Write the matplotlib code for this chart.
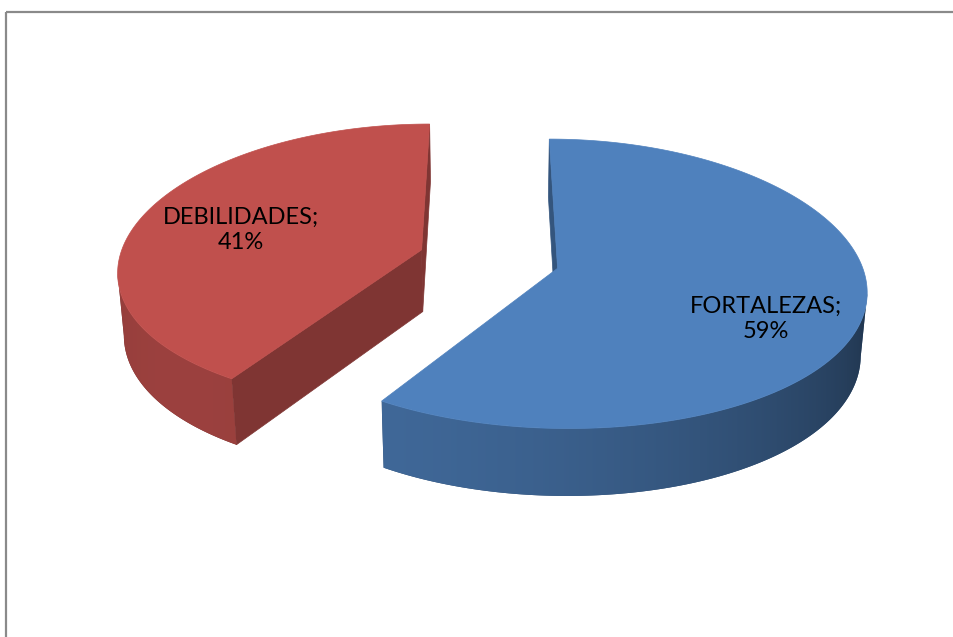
import numpy as np
import matplotlib
matplotlib.use("Agg")
import matplotlib.pyplot as plt
from matplotlib.patches import Polygon

# --- data -------------------------------------------------------------
categories = ["FORTALEZAS", "DEBILIDADES"]
shares = [59, 41]
slice_colors = ["#4F81BD", "#C0504D"]

# --- layout / 3-D view settings (pixel canvas) -----------------------
W, H = 954, 637
CX, CY = 489, 259          # projected position of the pie centre
SCALE = 302.5              # pixels per unit radius
ELEV = np.radians(27.8)    # viewing elevation
DIST_Y = 8.3               # perspective strength, vertical
DIST_X = 6.5               # perspective strength, horizontal
DEPTH = 0.235              # thickness of the pie
EXPLODE = 0.234            # radial offset of every slice
LABEL_R = 0.65
LABEL_SHIFT = {"FORTALEZAS": (11, 24), "DEBILIDADES": (0, 5)}
CUT_SHADE = 0.66

CAM = np.array([0.0, -DIST_Y * np.cos(ELEV), DIST_Y * np.sin(ELEV)])


def project(u, v, h):
    u, v, h = np.broadcast_arrays(np.asarray(u, float), np.asarray(v, float),
                                  np.asarray(h, float))
    yc = h * np.cos(ELEV) + v * np.sin(ELEV)
    zc = v * np.cos(ELEV) - h * np.sin(ELEV)
    fx = 1.0 / (1.0 + zc / DIST_X)
    fy = 1.0 / (1.0 + zc / DIST_Y)
    return CX + SCALE * u * fx, CY - SCALE * yc * fy


def shade(color, k):
    rgb = np.array(matplotlib.colors.to_rgb(color))
    return tuple(np.clip(rgb * k, 0, 1))


def wall_factor(theta):
    return 0.29 + 0.52 * (1 + np.cos(theta - np.radians(225))) / 2


fig = plt.figure(figsize=(W / 100, H / 100), dpi=100)
ax = fig.add_axes([0, 0, 1, 1])
ax.axis("off")

# chart frame: only the top and left edges fall inside the image
ax.plot([6, W + 10], [11.5, 11.5], color="#8a8a8a", lw=1.6,
        solid_capstyle="butt")
ax.plot([6, 6], [11.5, H + 10], color="#8a8a8a", lw=1.6,
        solid_capstyle="butt")

total = float(sum(shares))
bounds = np.radians(np.concatenate([[0], np.cumsum(shares)]) / total * 360)

slices = []
for i, (cat, val, col) in enumerate(zip(categories, shares, slice_colors)):
    a0, a1 = bounds[i], bounds[i + 1]
    mid = (a0 + a1) / 2
    slices.append(dict(cat=cat, val=val, col=col, a0=a0, a1=a1, mid=mid,
                       au=EXPLODE * np.sin(mid), av=EXPLODE * np.cos(mid)))

# far slices first
for s in sorted(slices, key=lambda s: -s["av"]):
    a0, a1, au, av, col = s["a0"], s["a1"], s["au"], s["av"], s["col"]
    apex = np.array([au, av, 0.0])

    # radial cut faces
    for phi, normal in ((a0, np.array([-np.cos(a0), np.sin(a0), 0])),
                        (a1, np.array([np.cos(a1), -np.sin(a1), 0]))):
        if np.dot(CAM - apex, normal) <= 0:
            continue
        ru, rv = au + np.sin(phi), av + np.cos(phi)
        xs, ys = project([au, ru, ru, au], [av, rv, rv, av],
                         [0, 0, -DEPTH, -DEPTH])
        ax.add_patch(Polygon(np.column_stack([xs, ys]), closed=True,
                             fc=shade(col, CUT_SHADE),
                             ec=shade(col, CUT_SHADE), lw=0.5))

    # outer curved wall with a horizontal light gradient
    th = np.linspace(a0, a1, 600)
    nrm = np.column_stack([np.sin(th), np.cos(th), np.zeros_like(th)])
    pts = apex + nrm
    vis = np.einsum("ij,ij->i", CAM - pts, nrm) > 0
    if vis.any():
        tv = th[vis]
        xt, yt = project(au + np.sin(tv), av + np.cos(tv), 0)
        xb, yb = project(au + np.sin(tv), av + np.cos(tv), -DEPTH)
        outline = np.column_stack([np.concatenate([xt, xb[::-1]]),
                                   np.concatenate([yt, yb[::-1]])])
        wall = Polygon(outline, closed=True, fc=shade(col, 0.6), ec="none")
        ax.add_patch(wall)
        x0, x1 = outline[:, 0].min(), outline[:, 0].max()
        y0, y1 = outline[:, 1].min(), outline[:, 1].max()
        cols = np.linspace(x0, x1, 300)
        order = np.argsort(xt)
        theta_at = np.interp(cols, xt[order], tv[order])
        img = np.array([[shade(col, wall_factor(t)) for t in theta_at]])
        im = ax.imshow(img, extent=(x0, x1, y1, y0), aspect="auto",
                       interpolation="bilinear", zorder=wall.get_zorder())
        im.set_clip_path(wall)

    # top face
    tu = np.concatenate([[au], au + np.sin(th)])
    tvv = np.concatenate([[av], av + np.cos(th)])
    xs, ys = project(tu, tvv, 0)
    ax.add_patch(Polygon(np.column_stack([xs, ys]), closed=True,
                         fc=col, ec=col, lw=0.5, zorder=1.5))

# data labels
for s in slices:
    lu = s["au"] + LABEL_R * np.sin(s["mid"])
    lv = s["av"] + LABEL_R * np.cos(s["mid"])
    lx, ly = project(lu, lv, 0)
    dx, dy = LABEL_SHIFT[s["cat"]]
    ax.text(float(lx) + dx, float(ly) + dy, f"{s['cat']};\n{s['val']}%",
            ha="center", va="center", fontsize=17, family="Lato",
            linespacing=1.25, color="black", zorder=5)

ax.set_xlim(0, W)
ax.set_ylim(H, 0)
fig.savefig("out.png", dpi=100)
